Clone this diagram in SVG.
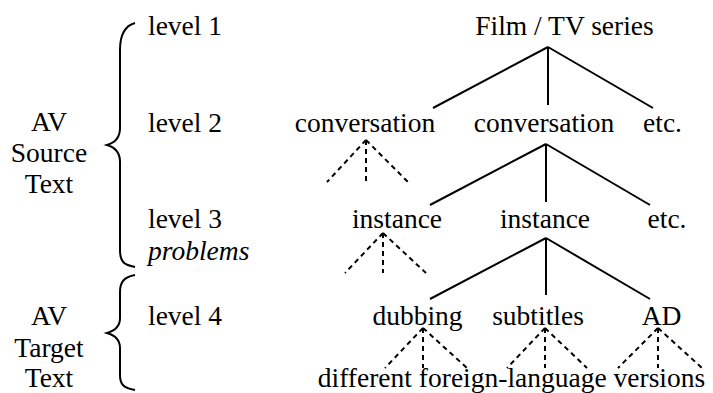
<svg xmlns="http://www.w3.org/2000/svg" width="713" height="393" viewBox="0 0 713 393">
<style>
text{font-family:'Liberation Serif','Times New Roman',serif;font-size:27.5px;fill:#000}
.m{text-anchor:middle}
.i{font-style:italic}
.s{stroke:#000;stroke-width:2;fill:none}
.d{stroke:#000;stroke-width:2;fill:none;stroke-dasharray:5 4}
</style>
<rect width="713" height="393" fill="#fff"/>
<g id="labels">
<text x="148" y="35">level 1</text>
<text x="148" y="132">level 2</text>
<text x="148" y="228">level 3</text>
<text x="148" y="260" class="i">problems</text>
<text x="148" y="325">level 4</text>
</g>
<g id="source-text">
<text x="49" y="131" class="m">AV</text>
<text x="49" y="162" class="m">Source</text>
<text x="49" y="193" class="m">Text</text>
<path class="s" d="M135,23 C124,26 120,35 120,50 L120,128 C120,138 114,143 107,145 C114,147 120,152 120,162 L120,250 C120,262 124,265 135,267"/>
</g>
<g id="target-text">
<text x="49" y="325" class="m">AV</text>
<text x="49" y="357" class="m">Target</text>
<text x="49" y="387" class="m">Text</text>
<path class="s" d="M135,275 C124,277 120,282 120,292 L120,318 C120,327 114,331 107,333 C114,335 120,339 120,348 L120,375 C120,385 124,388 135,390"/>
</g>
<g id="film"><text x="564.5" y="35" class="m">Film / TV series</text></g>
<g id="conversation1"><text x="365" y="132" class="m">conversation</text></g>
<g id="conversation2"><text x="544" y="132" class="m">conversation</text></g>
<g id="etc1"><text x="662.5" y="132" class="m">etc.</text></g>
<g id="instance1"><text x="397" y="228" class="m">instance</text></g>
<g id="instance2"><text x="545" y="228" class="m">instance</text></g>
<g id="etc2"><text x="667" y="228" class="m">etc.</text></g>
<g id="dubbing"><text x="417.5" y="325" class="m">dubbing</text></g>
<g id="subtitles"><text x="538" y="325" class="m">subtitles</text></g>
<g id="ad"><text x="661.5" y="325" class="m">AD</text></g>
<g id="versions"><text x="511.5" y="387" class="m">different foreign-language versions</text></g>
<g id="connectors">
<path class="s" d="M548,47 L433,108 M548,47 L548,105 M548,47 L653,108"/>
<path class="s" d="M546,144 L430,205 M546,144 L546,202 M546,144 L650,205"/>
<path class="s" d="M546,238 L430,299 M546,238 L546,295 M546,238 L650,299"/>
<path class="d" d="M366,140 L327,182 M366,140 L366,182 M366,140 L408,182"/>
<path class="d" d="M383,233 L345,273 M383,233 L383,273 M383,233 L426,273"/>
<path class="d" d="M423,328 L385,368 M423,328 L423,368 M423,328 L467,368"/>
<path class="d" d="M545,328 L507,368 M545,328 L545,368 M545,328 L587,368"/>
<path class="d" d="M658,328 L618,368 M658,328 L658,368 M658,328 L702,368"/>
</g>
</svg>
